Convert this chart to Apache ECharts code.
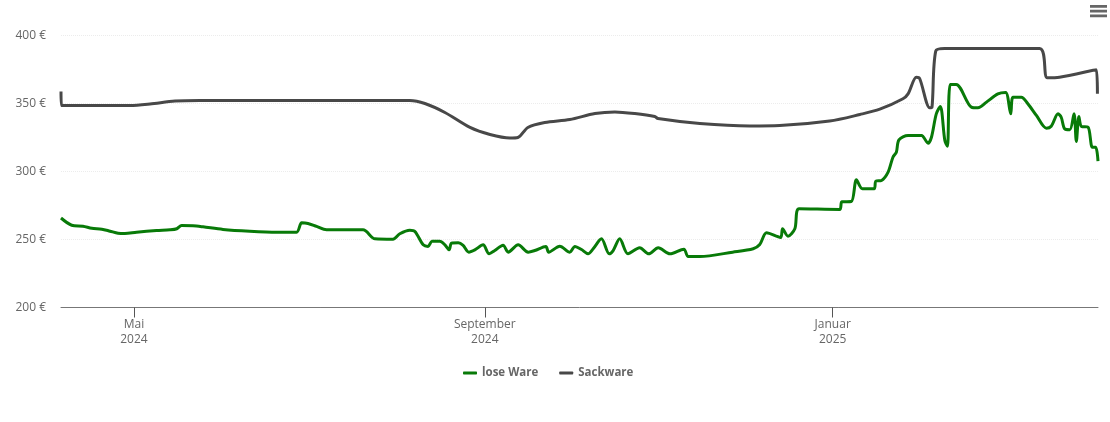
<!DOCTYPE html>
<html>
<head>
<meta charset="utf-8">
<title>Preisentwicklung</title>
<script src="https://cdn.jsdelivr.net/npm/echarts@6/dist/echarts.min.js"></script>
<style>
html, body { margin: 0; padding: 0; background: #fff; }
#chart { width: 1110px; height: 422px; }
</style>
</head>
<body>
<div id="chart"></div>
<script>
// days counted from the left edge of the chart (5 Apr 2024)
var START = Date.UTC(2024, 3, 5, 10);
var DAY = 86400000;

var looseDays = [0, 3.75, 7.7, 10.8, 14.3, 17.2, 20, 22.4, 26.5, 33.5, 38.2, 40.6, 42.3, 46.3, 49.8, 56.8, 66.2, 75.6, 82.6, 84.4, 86.6, 89.6, 93.1, 105.9, 110.1, 116.4, 118.8, 122.3, 124.1, 127, 128.7, 130.1, 132.8, 134.6, 136.1, 136.9, 139.3, 141, 143, 145.1, 148, 150.1, 152.1, 155, 156.8, 160.3, 163.8, 166.1, 170, 171, 174.9, 178.4, 180.2, 182.5, 184.8, 186.6, 189.5, 192.2, 193.6, 195.9, 198.8, 202.9, 206.1, 209.4, 213.5, 218.4, 219.9, 224, 235.5, 242.7, 245, 247.4, 252.3, 253, 254.9, 257.3, 258.8, 273, 273.8, 277.1, 278.9, 281, 285.1, 285.7, 287.7, 290, 291.7, 292.9, 293.8, 297, 301.7, 304, 305.2, 306.9, 308.3, 309.9, 310.8, 311.8, 313.9, 319.2, 321.5, 324.5, 328.5, 331.2, 333, 333.8, 336.7, 339, 342, 345.5, 347.2, 349.6, 350.7, 351.9, 353.7, 355.2, 356, 356.9, 357.8, 360.1, 361.6, 362.8, 363.6];
var looseValues = [265.8, 260.5, 259.8, 258.3, 257.6, 256.1, 254.6, 254.4, 255.4, 256.6, 257.1, 257.9, 260.3, 260.1, 259.3, 257.4, 256.1, 255.4, 255.4, 262.3, 261.8, 259.6, 257.1, 257.1, 250.5, 250.2, 254.2, 256.8, 255.9, 246.1, 244.9, 248.8, 248.8, 246.1, 242.4, 247.3, 247.6, 245.6, 240.7, 242.4, 246.1, 239.5, 241.9, 245.8, 240.7, 246.1, 240.7, 241.9, 244.9, 240.7, 245.1, 240.7, 244.9, 242.6, 239.5, 243.2, 250.5, 239.5, 241.9, 250.5, 239.5, 243.9, 239.5, 243.9, 239.5, 242.9, 237.5, 237.5, 240.7, 243.2, 246.3, 254.9, 251.5, 257.9, 252.4, 257.9, 272.6, 272.1, 277.7, 277.9, 293.9, 287.3, 287.3, 292.9, 293.4, 299.5, 310.5, 314.2, 323.3, 326.5, 326.5, 320.8, 325.2, 342.4, 347.8, 322.8, 318.6, 364, 364, 347.3, 346.8, 351, 357.1, 358.1, 342.4, 354.6, 354.6, 349.8, 341.2, 331.8, 333.3, 342.4, 339.9, 331.4, 330.7, 342.4, 322.1, 340.4, 333.1, 332.6, 317.9, 317.9, 307.6];

var sackDays = [0, 0.15, 24.2, 31.2, 40, 48.7, 122.3, 127.6, 134.6, 143.4, 150.4, 157.4, 160.2, 163.7, 169.6, 178.4, 187.2, 194.2, 201.2, 208.2, 209.3, 224, 241.5, 252, 269.5, 280.1, 287.1, 295.2, 297, 299.9, 301.1, 304.6, 305.4, 306.7, 309.8, 343.1, 345.8, 350.1, 363, 363.4];
var sackValues = [358.8, 348.5, 348.5, 349.6, 351.8, 352.2, 352.2, 350, 343.4, 332.4, 327.2, 324.6, 325, 332.4, 336, 338.2, 342.6, 343.8, 342.6, 340.4, 339, 335.3, 333.5, 333.8, 337.1, 341.9, 345.8, 353.5, 357.1, 369.3, 368.2, 346.8, 347.3, 388.5, 390.4, 390.4, 368.9, 369.3, 374.8, 357.1];

var tickDates = [Date.UTC(2024, 4, 1), Date.UTC(2024, 8, 1), Date.UTC(2025, 0, 1)];
var tickMonths = ['Mai', 'September', 'Januar'];

function toPairs(days, values) {
    return days.map(function (d, i) {
        return [START + d * DAY, values[i]];
    });
}

var chart = echarts.init(document.getElementById('chart'), null, { renderer: 'canvas' });
var font = '"Open Sans", "Noto Sans", sans-serif';

var option = {
    animation: false,
    textStyle: { fontFamily: font },
    grid: { left: 61, right: 12, top: 35.5, bottom: 114.5 },
    toolbox: {
        right: 3,
        top: 5,
        padding: 0,
        itemSize: 17,
        feature: {
            myMenu: {
                show: true,
                title: 'Menü',
                icon: 'path://M0 0H18V3H0ZM0 5H18V8H0ZM0 10H18V13H0Z',
                iconStyle: { color: '#666', borderWidth: 0 },
                onclick: function () {}
            }
        }
    },
    legend: {
        top: 362,
        left: 458,
        itemWidth: 14,
        itemHeight: 3,
        itemGap: 21,
        icon: 'roundRect',
        textStyle: { color: '#666', fontSize: 11.5, fontWeight: 'bold', fontFamily: font },
        data: ['lose Ware', 'Sackware']
    },
    xAxis: {
        // plain value axis holding timestamps, the time axis breaks on customValues
        type: 'value',
        min: START,
        max: START + 363.6 * DAY,
        axisLine: { onZero: false, lineStyle: { color: '#777', width: 1 } },
        axisTick: { customValues: tickDates, length: 10, lineStyle: { color: '#555' } },
        splitLine: { show: false },
        axisLabel: {
            customValues: tickDates,
            color: '#666',
            fontSize: 12,
            lineHeight: 15,
            margin: 10,
            hideOverlap: false,
            formatter: function (value) {
                var i = tickDates.indexOf(value);
                return tickMonths[i] + '\n' + new Date(value).getUTCFullYear();
            }
        }
    },
    yAxis: {
        type: 'value',
        min: 200,
        max: 400,
        interval: 50,
        axisLine: { show: false },
        axisTick: { show: false },
        axisLabel: {
            color: '#666',
            fontSize: 12,
            margin: 15,
            formatter: '{value} €'
        },
        splitLine: { lineStyle: { color: '#ececec', type: 'dotted', width: 1 } }
    },
    series: [{
        name: 'lose Ware',
        type: 'line',
        smooth: 0.3,
        showSymbol: false,
        lineStyle: { color: '#087a08', width: 3 },
        itemStyle: { color: '#087a08' },
        data: toPairs(looseDays, looseValues)
    }, {
        name: 'Sackware',
        type: 'line',
        smooth: 0.3,
        showSymbol: false,
        lineStyle: { color: '#484848', width: 3 },
        itemStyle: { color: '#484848' },
        data: toPairs(sackDays, sackValues)
    }]
};

chart.setOption(option);

window.onresize = chart.resize;
</script>
</body>
</html>
